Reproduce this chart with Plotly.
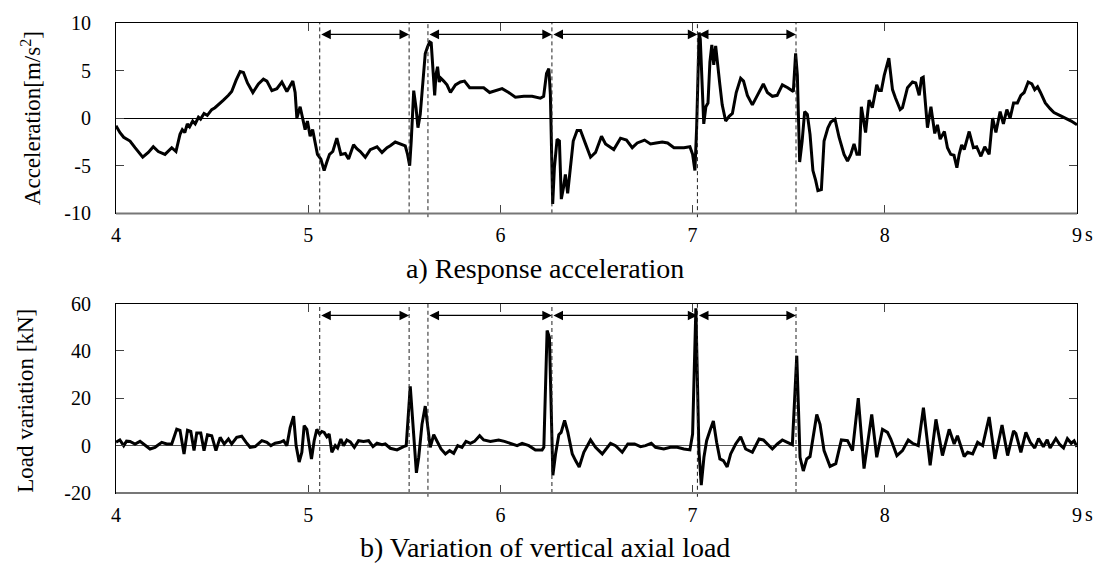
import plotly.graph_objects as go

# ---------------- data ----------------
t_acc = [4.000, 4.02, 4.04, 4.073, 4.099, 4.139, 4.168, 4.194, 4.22, 4.255, 4.29, 4.312, 4.333, 4.345,
         4.358, 4.371, 4.383, 4.399, 4.412, 4.429, 4.44, 4.458, 4.475, 4.498, 4.515, 4.533, 4.559, 4.585,
         4.602, 4.625, 4.646, 4.663, 4.684, 4.712, 4.741, 4.767, 4.785, 4.811, 4.837, 4.863, 4.889, 4.906,
         4.92, 4.932, 4.941, 4.958, 4.972, 4.984, 4.996, 5.01, 5.023, 5.036, 5.048, 5.066, 5.083, 5.097,
         5.111, 5.128, 5.149, 5.17, 5.193, 5.21, 5.236, 5.253, 5.271, 5.297, 5.323, 5.358, 5.384, 5.41,
         5.427, 5.453, 5.479, 5.505, 5.517, 5.528, 5.536, 5.549, 5.561, 5.571, 5.583, 5.597, 5.609, 5.621,
         5.632, 5.64, 5.649, 5.658, 5.665, 5.673, 5.682, 5.69, 5.705, 5.722, 5.74, 5.766, 5.792, 5.813,
         5.84, 5.87, 5.913, 5.944, 5.984, 6.009, 6.043, 6.078, 6.122, 6.165, 6.208, 6.225, 6.24, 6.252,
         6.26, 6.266, 6.272, 6.281, 6.295, 6.307, 6.317, 6.329, 6.338, 6.35, 6.365, 6.379, 6.399, 6.417,
         6.443, 6.469, 6.495, 6.526, 6.547, 6.573, 6.59, 6.625, 6.656, 6.686, 6.712, 6.75, 6.781, 6.81,
         6.842, 6.87, 6.903, 6.955, 6.986, 7.0, 7.012, 7.021, 7.028, 7.034, 7.04, 7.05, 7.058, 7.069,
         7.08, 7.09, 7.1, 7.11, 7.12, 7.142, 7.154, 7.172, 7.19, 7.207, 7.227, 7.25, 7.265, 7.285,
         7.311, 7.337, 7.368, 7.389, 7.415, 7.44, 7.467, 7.495, 7.524, 7.536, 7.545, 7.557, 7.57, 7.583,
         7.597, 7.611, 7.626, 7.64, 7.652, 7.67, 7.684, 7.704, 7.719, 7.741, 7.762, 7.788, 7.806, 7.823,
         7.84, 7.855, 7.868, 7.878, 7.9, 7.918, 7.935, 7.958, 7.97, 7.982, 7.997, 8.021, 8.04, 8.056,
         8.08, 8.092, 8.118, 8.144, 8.161, 8.179, 8.191, 8.2, 8.222, 8.24, 8.26, 8.274, 8.288, 8.31,
         8.326, 8.343, 8.36, 8.375, 8.387, 8.4, 8.413, 8.439, 8.461, 8.478, 8.5, 8.52, 8.543, 8.561,
         8.578, 8.6, 8.617, 8.635, 8.652, 8.67, 8.69, 8.708, 8.725, 8.746, 8.765, 8.78, 8.795, 8.81,
         8.835, 8.86, 8.88, 8.91, 8.94, 8.97, 9.0]
acc = [-0.8, -1.5, -2.0, -2.4, -3.1, -4.1, -3.6, -3.0, -3.5, -3.8, -3.1, -3.5, -1.7, -1.2,
       -1.5, -0.6, -0.9, -0.3, -0.6, 0.1, -0.1, 0.5, 0.3, 0.9, 1.1, 1.4, 1.9, 2.4,
       2.8, 4.0, 4.9, 4.8, 3.7, 2.7, 3.6, 4.1, 3.9, 2.9, 3.1, 3.8, 2.8, 3.4,
       3.9, 2.7, 0.0, 1.2, 0.0, -1.2, -0.3, -1.9, -1.2, -2.4, -3.8, -4.3, -5.5, -4.6,
       -3.8, -3.5, -2.1, -3.8, -3.7, -4.3, -2.8, -3.2, -3.5, -4.1, -3.3, -3.0, -3.6, -3.1,
       -2.9, -2.5, -2.7, -2.9, -3.8, -5.0, -2.4, 2.9, 1.1, -1.0, 0.4, 4.2, 6.8, 7.5,
       8.0, 7.9, 4.7, 2.4, 4.6, 5.4, 3.8, 4.2, 3.9, 3.5, 2.7, 3.5, 3.8, 3.9,
       3.2, 3.2, 3.2, 2.7, 2.9, 3.1, 2.7, 2.2, 2.3, 2.3, 2.1, 2.3, 4.7, 5.2,
       2.5, -3.1, -9.0, -5.2, -2.2, -2.4, -8.5, -7.2, -5.9, -7.9, -5.2, -2.4, -1.3, -1.3,
       -2.7, -4.1, -3.6, -1.9, -2.7, -3.1, -3.3, -2.1, -2.3, -3.1, -2.6, -2.3, -2.7, -2.6,
       -2.5, -2.6, -3.1, -3.1, -3.0, -3.8, -5.5, -1.0, 4.6, 9.0, 8.3, 2.8, -0.6, 1.2,
       1.6, 5.9, 7.7, 5.6, 7.6, 3.5, 1.4, -0.3, 0.2, 0.5, 2.7, 4.2, 3.9, 2.4,
       1.4, 2.4, 3.6, 2.7, 2.3, 2.4, 3.5, 3.2, 2.8, 6.8, 4.5, -4.6, -2.4, 0.7,
       0.4, -1.7, -5.5, -6.5, -7.6, -7.5, -2.4, -1.0, -0.4, -0.1, -2.0, -3.8, -4.5, -3.8,
       -2.7, -3.8, -3.8, 1.2, -1.5, 1.9, 1.1, 3.5, 2.9, 2.9, 4.5, 6.3, 3.0, 2.1,
       0.9, 1.1, 3.2, 3.8, 3.7, 2.4, 4.2, 4.3, -1.0, 1.2, -1.6, -0.7, -2.2, -1.4,
       -3.1, -3.8, -3.9, -5.2, -3.8, -2.8, -3.3, -1.4, -3.1, -3.0, -4.0, -3.0, -3.8, 0.0,
       -1.5, 0.7, -0.6, 0.9, 0.0, 1.6, 1.6, 2.4, 2.7, 3.8, 3.6, 3.0, 3.3, 2.7,
       1.6, 1.0, 0.6, 0.3, 0.0, -0.3, -0.7]

t_load = [4.0, 4.02, 4.04, 4.055, 4.073, 4.099, 4.125, 4.151, 4.177, 4.203, 4.238, 4.264, 4.29, 4.316,
          4.333, 4.354, 4.372, 4.389, 4.406, 4.42, 4.441, 4.458, 4.476, 4.498, 4.52, 4.542, 4.563, 4.585,
          4.602, 4.628, 4.654, 4.677, 4.698, 4.724, 4.759, 4.785, 4.806, 4.828, 4.854, 4.872, 4.889, 4.906,
          4.924, 4.937, 4.953, 4.967, 4.979, 4.993, 5.005, 5.017, 5.031, 5.045, 5.059, 5.071, 5.083, 5.097,
          5.109, 5.123, 5.141, 5.153, 5.17, 5.184, 5.201, 5.219, 5.24, 5.262, 5.288, 5.314, 5.337, 5.358,
          5.384, 5.401, 5.427, 5.462, 5.496, 5.51, 5.531, 5.545, 5.563, 5.575, 5.592, 5.609, 5.623, 5.635,
          5.653, 5.67, 5.691, 5.714, 5.736, 5.757, 5.778, 5.8, 5.821, 5.844, 5.865, 5.892, 5.913, 5.948,
          5.991, 6.021, 6.052, 6.087, 6.113, 6.148, 6.182, 6.217, 6.226, 6.243, 6.255, 6.273, 6.287, 6.304,
          6.316, 6.334, 6.351, 6.374, 6.391, 6.41, 6.434, 6.469, 6.495, 6.53, 6.573, 6.599, 6.634, 6.663,
          6.698, 6.729, 6.755, 6.785, 6.807, 6.85, 6.885, 6.92, 6.955, 6.986, 7.0, 7.01, 7.017, 7.033,
          7.045, 7.059, 7.073, 7.09, 7.108, 7.125, 7.142, 7.16, 7.18, 7.198, 7.224, 7.25, 7.276, 7.311,
          7.346, 7.368, 7.389, 7.415, 7.441, 7.467, 7.493, 7.519, 7.542, 7.559, 7.576, 7.594, 7.611, 7.646,
          7.663, 7.684, 7.715, 7.745, 7.774, 7.806, 7.832, 7.862, 7.892, 7.932, 7.958, 7.988, 8.014, 8.031,
          8.063, 8.092, 8.122, 8.144, 8.174, 8.201, 8.236, 8.266, 8.3, 8.335, 8.361, 8.378, 8.413, 8.431,
          8.457, 8.483, 8.509, 8.543, 8.573, 8.61, 8.639, 8.67, 8.682, 8.708, 8.734, 8.757, 8.78, 8.80,
          8.825, 8.845, 8.86, 8.875, 8.89, 8.91, 8.93, 8.95, 8.97, 8.985, 9.0]
load = [1.5, 2.4, 0.0, 1.9, 1.8, 0.7, 1.8, 0.0, -1.4, -0.7, 1.4, 0.7, 0.7, 7.0,
        6.5, -3.5, 6.5, 6.0, -2.1, 5.3, 5.3, -2.1, 4.6, 4.2, -2.1, 3.5, 0.7, 2.8,
        0.7, 3.5, 4.0, 1.4, -0.7, -0.4, 2.1, 1.4, 0.0, 1.0, 1.4, 2.1, 0.0, 7.6,
        12.5, 0.0, -6.9, -2.8, 8.5, 6.9, 0.0, -5.6, 2.1, 6.9, 4.9, 6.0, 5.6, 3.75,
        4.9, -2.8, 0.0, -1.0, 2.8, 0.0, 2.4, 1.6, -0.7, 2.1, 1.8, 2.1, -0.4, 1.0,
        0.4, 0.7, -1.1, -1.8, -0.4, 0.0, 25.0, 7.6, -11.5, -4.9, 9.0, 16.7, 7.6, -0.7,
        4.6, 2.1, -1.4, -3.5, -2.1, -3.2, 0.0, -0.7, 1.8, 1.0, 1.8, 4.2, 2.4, 1.8,
        2.4, 1.8, 1.0, 0.0, 1.0, 0.0, -1.8, -1.8, -0.7, 48.6, 45.8, -12.5, -3.5, 4.6,
        5.6, 10.7, 5.6, -3.5, -6.3, -9.0, -2.8, 2.4, -0.7, -3.5, 1.0, 0.0, -2.8, 0.7,
        0.7, -0.4, 0.0, 1.0, -0.7, -1.4, -0.7, -0.7, -1.4, -1.8, 4.9, 45.0, 58.0, -2.1,
        -16.7, -4.9, 2.1, 6.3, 10.4, 1.4, -5.6, -6.3, -9.0, -3.5, 0.7, 3.75, -1.4, -2.8,
        2.8, 2.4, 0.7, -1.4, 0.7, 2.4, 1.4, 0.4, 38.0, -4.9, -10.7, -5.6, -4.6, 13.2,
        9.0, -2.1, -8.75, -7.6, 2.4, 2.1, -2.1, 20.1, -9.7, 13.2, -4.9, 6.9, 5.6, 2.8,
        -4.2, -2.1, 2.4, 1.0, 0.0, 16.0, -8.3, 11.1, -4.2, 6.9, 0.7, 4.2, -4.6, -2.8,
        -3.5, 1.4, 0.0, 12.1, -5.6, 8.75, -4.2, 6.25, 5.1, -2.8, 5.6, 1.4, -1.0, 3.0,
        -0.5, 2.5, -1.0, 1.0, 3.0, 0.5, -1.0, 3.0, 1.0, 2.0, -0.5]

x_ticks = [4, 5, 6, 7, 8, 9]
x_ticktext = ["4", "5", "6", "7", "8", "9"]
acc_ticks = [-10, -5, 0, 5, 10]
acc_ticktext = ["-10", "-5", "0", "5", "10"]
load_ticks = [-20, 0, 20, 40, 60]
load_ticktext = ["-20", "0", "20", "40", "60"]
dash_times = [5.06, 5.525, 5.623, 6.268, 7.025, 7.538]
arrow_spans = [(5.06, 5.525), (5.623, 6.268), (6.268, 7.025), (7.025, 7.538)]
acc_arrow_y = 8.8
load_arrow_y = 55.0

acc_title = "Acceleration[m/s<sup>2</sup>]"
load_title = "Load variation [kN]"
caption_a = "a) Response acceleration"
caption_b = "b) Variation of vertical axial load"

# ---------------- figure ----------------
FONT = "Liberation Serif, Times New Roman, serif"
W, H = 1099, 564
ML, MR, MT, MB = 116, 22, 19, 71
PW, PH = W - ML - MR, H - MT - MB


def px2paper_x(px):
    return (px - ML) / PW


def px2paper_y(py):
    return (H - MB - py) / PH


fig = go.Figure()
fig.add_trace(go.Scatter(x=t_acc, y=acc, xaxis="x", yaxis="y", mode="lines",
                         line=dict(color="black", width=3), showlegend=False))
fig.add_trace(go.Scatter(x=t_load, y=load, xaxis="x2", yaxis="y2", mode="lines",
                         line=dict(color="black", width=3), showlegend=False))

common_x = dict(range=[4, 9], tickmode="array", tickvals=x_ticks, ticktext=x_ticktext,
                ticks="inside", ticklen=8, tickcolor="#444", showline=True, linecolor="black",
                linewidth=1, mirror="allticks", showgrid=False, zeroline=False,
                tickfont=dict(family=FONT, size=20, color="black"), ticklabelstandoff=4)
common_y = dict(ticks="inside", ticklen=8, tickcolor="#444", showline=True, linecolor="black",
                linewidth=1, mirror="allticks", showgrid=False, zeroline=True, zerolinewidth=1,
                tickmode="array", tickfont=dict(family=FONT, size=20, color="black"),
                ticklabelstandoff=20)

top_dom = [px2paper_y(211), 1.0]
bot_dom = [0.0, px2paper_y(302)]

fig.update_layout(
    width=W, height=H,
    margin=dict(l=ML, r=MR, t=MT, b=MB),
    paper_bgcolor="white", plot_bgcolor="white",
    font=dict(family=FONT, color="black"),
    xaxis=dict(anchor="y", domain=[0, 1], **common_x),
    yaxis=dict(anchor="x", domain=top_dom, range=[-10, 10], tickvals=acc_ticks,
               ticktext=acc_ticktext, zerolinecolor="black", **common_y),
    xaxis2=dict(anchor="y2", domain=[0, 1], **common_x),
    yaxis2=dict(anchor="x2", domain=bot_dom, range=[-20, 60], tickvals=load_ticks,
                ticktext=load_ticktext, zerolinecolor="#555", **common_y),
)

shapes = []
for xr, yr in (("x", "y domain"), ("x2", "y2 domain")):
    for i, t in enumerate(dash_times):
        y0 = -0.02 if i in (2, 4) else 0
        shapes.append(dict(type="line", xref=xr, yref=yr, x0=t, x1=t, y0=y0, y1=1,
                           line=dict(color="#222", width=1, dash="4px,3px")))
for xr, yr in (("x domain", "y domain"), ("x2 domain", "y2 domain")):
    shapes.append(dict(type="line", xref=xr, yref=yr, x0=0, x1=1, y0=0, y1=0,
                       line=dict(color="#777", width=2)))
fig.update_layout(shapes=shapes)

ann = []
for (a, b) in arrow_spans:
    for xr, yr, yv in (("x", "y", acc_arrow_y), ("x2", "y2", load_arrow_y)):
        ann.append(dict(x=b, y=yv, ax=a, ay=yv, xref=xr, yref=yr, axref=xr, ayref=yr,
                        text="", showarrow=True, arrowhead=2, arrowside="end+start",
                        arrowsize=1.6, arrowwidth=1.2, arrowcolor="black",
                        standoff=0, startstandoff=0))

# "s" unit after the 9 tick label
for xr, py in (("x", 232), ("x2", 514)):
    ann.append(dict(x=9, xref=xr, y=px2paper_y(py), yref="paper", text="s", showarrow=False,
                    xanchor="center", yanchor="middle", xshift=12,
                    font=dict(family=FONT, size=20, color="black")))

ann.append(dict(x=px2paper_x(31), y=px2paper_y(115), xref="paper", yref="paper", text=acc_title,
                textangle=-90, showarrow=False, xanchor="center", yanchor="middle",
                font=dict(family=FONT, size=23, color="black")))
ann.append(dict(x=px2paper_x(26), y=px2paper_y(400), xref="paper", yref="paper", text=load_title,
                textangle=-90, showarrow=False, xanchor="center", yanchor="middle",
                font=dict(family=FONT, size=23, color="black")))
ann.append(dict(x=px2paper_x(545), y=px2paper_y(267), xref="paper", yref="paper", text=caption_a,
                showarrow=False, xanchor="center", yanchor="middle",
                font=dict(family=FONT, size=28, color="black")))
ann.append(dict(x=px2paper_x(545), y=px2paper_y(548), xref="paper", yref="paper", text=caption_b,
                showarrow=False, xanchor="center", yanchor="middle",
                font=dict(family=FONT, size=28, color="black")))
fig.update_layout(annotations=ann)

fig.write_html("out.html", config={"displayModeBar": False},
               post_script="document.body.style.margin='0';")
